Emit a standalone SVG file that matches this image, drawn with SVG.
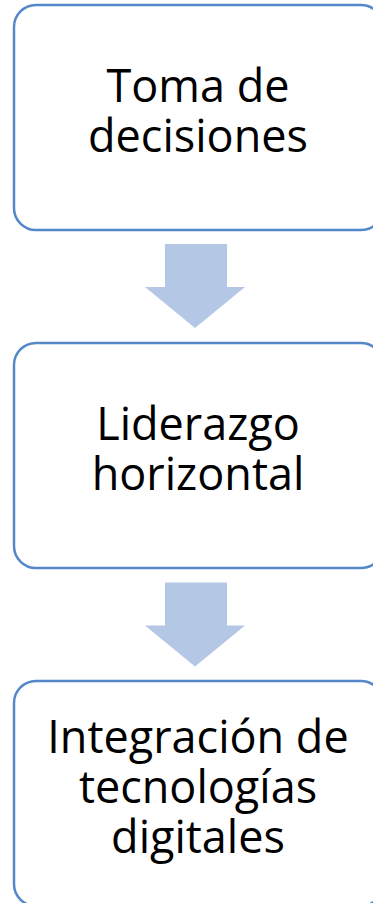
<svg xmlns="http://www.w3.org/2000/svg" width="373" height="903" viewBox="0 0 373 903">
<style>
.box{fill:#ffffff;stroke:#5588c8;stroke-width:2.5}
.lbl{font-family:"Open Sans","Liberation Sans",sans-serif;font-size:45px;fill:#000000;text-anchor:middle}
.arr{fill:#b4c8e6}
</style>
<rect width="373" height="903" fill="#ffffff"/>
<g id="connectors">
<polygon class="arr" points="165,244 227,244 227,287 245,287 195,328 145,287 165,287"/>
<polygon class="arr" points="165,582.5 227,582.5 227,625.5 245,625.5 195,666.5 145,625.5 165,625.5"/>
</g>
<g id="node1">
<rect class="box" x="14" y="5" width="369" height="225" rx="22"/>
<text class="lbl" x="198" y="102">Toma de</text>
<text class="lbl" x="198" y="152">decisiones</text>
</g>
<g id="node2">
<rect class="box" x="14" y="343" width="369" height="225" rx="22"/>
<text class="lbl" x="198" y="440">Liderazgo</text>
<text class="lbl" x="198" y="490">horizontal</text>
</g>
<g id="node3">
<rect class="box" x="14" y="681" width="369" height="225" rx="22"/>
<text class="lbl" x="198" y="753">Integración de</text>
<text class="lbl" x="198" y="803">tecnologías</text>
<text class="lbl" x="198" y="853">digitales</text>
</g>
</svg>
